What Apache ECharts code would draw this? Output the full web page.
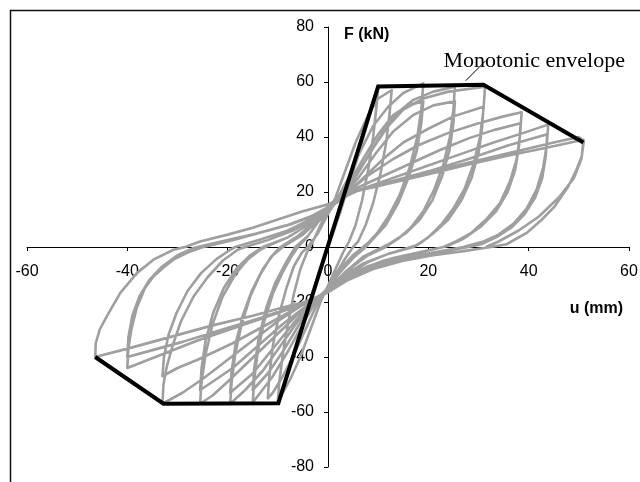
<!DOCTYPE html>
<html>
<head>
<meta charset="utf-8">
<script src="https://cdn.jsdelivr.net/npm/echarts@6/dist/echarts.min.js"></script>
<style>
  html, body { margin: 0; padding: 0; background: #fff; }
  #chart { width: 640px; height: 482px; }
</style>
</head>
<body>
<div id="chart"></div>
<script>
// Axis ranges (u in mm, F in kN)
const uRange = [-60, 60];
const fRange = [-80, 80];
const tickStep = 20;

// Monotonic envelope: displacement (mm) and force (kN)
const envelopeU = [-46.4, -32.8, -9.9, 10.0, 31.0, 50.9];
const envelopeF = [-40.0, -57.0, -56.8, 58.4, 59.0, 38.0];

// Cyclic test record, cycle by cycle: [u (mm), F (kN)]
const initialLoading = [[0,0],[1,5],[2.5,13],[4,22],[6,33],[8,46],[9,53],[10,57.5]];

const cycle1 = [[10,57.5],[9.6,50],[9,40],[8,28],[6.8,17],[5.5,8],[4.2,2],[3,-2],[1.5,-8],[0,-14],[-1.5,-20],[-3.5,-30],[-5.5,-40],[-7.5,-48],[-9,-53],[-10,-56],
  [-9.7,-49],[-9,-39],[-8,-28],[-6.8,-17],[-5.5,-8],[-4.2,-2],[-3,2],[-1.5,8],[0,13],[1.5,18],[3.5,28],[5.5,38],[8,48],[10,54],[12.7,57]];

const cycle2 = [[12.7,57],[12.3,49],[11.6,38],[10.5,27],[9,16],[7.5,8],[6,2],[5,0],[3.5,-4],[1.5,-10],[0,-15],[-2,-20],[-4,-28],[-6.5,-38],[-9,-47],[-11,-53],[-12,-55],
  [-11.7,-47],[-11,-36],[-9.8,-25],[-8.3,-15],[-6.8,-7],[-5.2,-2],[-4,0],[-2,5],[0,12],[2,18],[4,25],[6.5,35],[9,44],[12,51],[15,56],[19,59.5]];

const cycle3 = [[19,59.5],[18.6,50],[17.8,40],[16.3,29],[14.3,19],[12,11],[9.8,5],[8,1.5],[7,0],[5,-3],[3,-7],[1,-12],[0,-15],[-2.5,-20],[-5,-28],[-8,-38],[-11,-47],[-13.5,-53],[-15,-56.5],
  [-14.7,-48],[-14,-38],[-12.7,-27],[-11,-17],[-9,-9],[-7.3,-3.5],[-6,0],[-4,4],[-2,9],[0,13],[2,17],[4.5,24],[7,32],[10,41],[13,48],[16,51.5],[19,53]];

const cycle4 = [[19,53],[18.6,45],[17.7,35],[16,25],[14,16],[11.5,8],[9,3],[7.5,0],[5,-4],[2.5,-9],[0,-15],[-3,-20],[-6,-29],[-9,-38],[-12,-46],[-15,-52],
  [-14.7,-44],[-13.8,-33],[-12.3,-22],[-10.5,-13],[-8.5,-6],[-6.5,0],[-4,4],[-2,9],[0,13.5],[2.5,18],[5,24],[8,33],[11,42],[14,49],[17,53.5],[21,56.5],[25.3,58.3]];

const cycle5 = [[25.3,58.3],[25,50],[24.3,40],[23,30],[21.2,21],[19,13],[16.5,7],[14,3],[11.5,0],[8,-3],[5,-7],[2,-12],[0,-15.5],[-3,-20],[-6,-27],[-9.5,-36],[-13,-45],[-16.5,-52],[-19.5,-57],
  [-19.2,-49],[-18.5,-39],[-17.2,-28],[-15.5,-18],[-13.5,-10],[-11.5,-4],[-9.5,0],[-6,4],[-3,8.5],[0,13.5],[3,18.5],[6,25],[9.5,34],[13,42],[17,48],[21,51.5],[25.3,53]];

const cycle6 = [[25.3,53],[25,45],[24.2,35],[22.8,26],[20.8,17],[18.3,10],[15.5,5],[12.5,1.5],[11,0],[7,-3.5],[3.5,-9],[0,-15.5],[-3,-20],[-7,-28],[-11,-37],[-15,-46],[-19.5,-53],
  [-19.2,-45],[-18.4,-35],[-17,-25],[-15.2,-16],[-13,-8],[-11,-3],[-9,0],[-5,4.5],[-2,9.5],[0,13.5],[3,19],[6,27],[9,36],[12,44],[15,50],[19,54],[24,56.5],[31.3,58.3]];

const cycle7 = [[31.3,58.3],[31,50],[30.3,40],[29,30],[27.2,21],[25,14],[22.5,8],[20,3.5],[17.5,0.5],[16.5,0],[12,-2.5],[8,-5.5],[4,-10],[1,-14],[0,-16],[-4,-21],[-8,-28],[-12,-35],[-16,-42],[-20,-49],[-23,-54],[-25.5,-57],
  [-25.2,-49],[-24.4,-39],[-23,-28],[-21,-18],[-18.5,-10],[-16,-4.5],[-13.5,-1],[-12.5,0],[-8,3.5],[-4,8],[0,13.5],[3.5,19],[7,25],[11,32],[15,38],[20,43],[25,47.5],[31,51]];

const cycle8 = [[31,51],[30.7,43],[30,34],[28.6,25],[26.6,17],[24,10],[21,5],[18.5,1.5],[17,0],[12,-2.5],[7,-6],[3,-10.5],[0,-16],[-4,-21],[-9,-28],[-14,-36],[-19,-44],[-23,-49],[-25.5,-52],
  [-25.2,-44],[-24.4,-34],[-22.9,-24],[-20.8,-15],[-18.3,-8],[-15.5,-3],[-13,0],[-8,3.5],[-4,8],[0,14],[4,20],[8,26],[13,32],[18,37],[24,41.5],[30,45],[35,47.5],[38.6,49]];

const cycle9 = [[38.6,49],[38.3,41],[37.6,32],[36.3,24],[34.3,16],[31.5,10],[28.5,5],[25.5,2],[23,0],[18,-2],[13,-4],[8,-7],[4,-11],[1,-15],[-1,-17],[-5,-21],[-10,-27],[-15,-34],[-20,-41],[-25,-48],[-29,-53],[-33,-57],
  [-32.8,-50],[-32.2,-44],[-31,-36],[-29.3,-27],[-26.8,-18],[-24,-11],[-21,-5],[-18,-1],[-16.5,0],[-12,2.5],[-7,6],[-3,10],[0,14],[4,20],[10,25],[16,30],[22,35],[28,39.5],[33,42.5],[38.4,45]];

const cycle10 = [[38.4,45],[38.1,37],[37.3,28],[35.8,20],[33.5,13],[30.5,7.5],[27,3],[24,0.5],[23,0],[17,-2.5],[11,-5],[6,-8.5],[2,-13],[0,-16],[-5,-21],[-12,-28],[-19,-35],[-26,-41],[-30,-44],[-33,-47],
  [-32.7,-40],[-31.8,-32],[-30.2,-24],[-28,-16],[-25.3,-9.5],[-22.3,-4.5],[-19.5,-1],[-18.5,0],[-13,3],[-8,6],[-3,10.5],[0,14],[5,20],[12,24.5],[19,29],[26,33.5],[33,38],[39,41.5],[43.9,44.5]];

const cycle11 = [[43.9,44.5],[43.6,37],[42.9,29],[41.6,21],[39.6,14],[37,8.5],[34,4.5],[31,2],[28,0.5],[27,0],[21,-2],[15,-4],[9,-7],[4,-11],[0,-16],[-4,-20],[-10,-24],[-18,-29],[-26,-34],[-33,-39],[-40,-44],
  [-39.8,-37],[-39.2,-30],[-38.1,-22],[-36.5,-15],[-34.8,-10.7],[-32.5,-7],[-30.8,-4.6],[-28,-2],[-25.5,-0.4],[-24.8,0],[-19,2.5],[-13,5.5],[-7,8.5],[-2,12],[0,14],[5,20],[12,23.5],[20,27.5],[28,32],[36,37],[43.7,41]];

const cycle12 = [[43.7,41],[43.4,33],[42.7,25],[41.3,18],[39.2,12],[36.5,7],[33.5,3.5],[30.5,1],[28,0],[22,-2],[16,-4],[10,-6.5],[5,-10],[1,-14.5],[-2,-18],[-6,-21],[-13,-25.5],[-21,-30],[-29,-34.5],[-35,-37.5],[-40,-40],
  [-39.8,-33],[-39,-25],[-37.6,-18],[-35.6,-12],[-33,-7],[-30,-3],[-27,-0.5],[-26,0],[-20,2.5],[-14,5],[-8,8],[-3,11.5],[0,14.5],[5,20],[12,23],[20,26.5],[28,30],[36,33.3],[44,36.3],[50.9,39]];

const cycle13 = [[50.9,39],[50.6,33],[49.5,28],[47.9,22],[45.2,14.8],[42.6,9.9],[39.6,5.1],[35.6,1],[32.5,0],[27,-1.5],[21,-3],[15,-5],[9,-8],[4,-12],[0,-16.5],[-3,-19.5],[-7,-21],[-15,-25],[-23,-28.5],[-31,-32.5],[-39,-36.5],[-46.4,-40],
  [-46.3,-35],[-45.5,-30],[-44.1,-25.2],[-41.4,-16.7],[-38.1,-9.5],[-34.8,-4.6],[-30.8,-1],[-28.5,0],[-25.5,2],[-20,4.5],[-15,7],[-10,10],[-5,13],[0,15.5],[3,18],[6,20.5],[14,24],[22,28],[30,31.5],[38,35],[45,38],[50,40],
  [51,38.5],[50.5,32],[49,25],[46,18],[42,11],[38,6],[34,2],[31.5,0]];

const hysteresis = [].concat(initialLoading, cycle1, cycle2, cycle3, cycle4, cycle5, cycle6,
  cycle7, cycle8, cycle9, cycle10, cycle11, cycle12, cycle13);
const envelope = envelopeU.map((u, i) => [u, envelopeF[i]]);

// Plot area in pixels; the axes cross at the origin
const plot = { left: 27, top: 27, width: 602, height: 440 };
const xAxisShift = -plot.height * (fRange[1] / (fRange[1] - fRange[0]));
const yAxisShift = -plot.width * (-uRange[0] / (uRange[1] - uRange[0]));

const chart = echarts.init(document.getElementById('chart'), null, { renderer: 'canvas' });
const labelFont = { fontFamily: 'Liberation Sans, Arial, sans-serif', fontSize: 16, color: '#000' };

chart.setOption({
  animation: false,
  backgroundColor: '#fff',
  grid: { left: plot.left, top: plot.top, width: plot.width, height: plot.height, containLabel: false, outerBoundsMode: 'none' },
  xAxis: {
    type: 'value', min: uRange[0], max: uRange[1], interval: tickStep, position: 'bottom', offset: xAxisShift,
    axisLine: { onZero: false, lineStyle: { color: '#000', width: 1 } },
    axisTick: { show: true, length: 4, lineStyle: { color: '#000' } },
    axisLabel: Object.assign({ margin: 17 }, labelFont),
    splitLine: { show: false }
  },
  yAxis: {
    type: 'value', min: fRange[0], max: fRange[1], interval: tickStep, position: 'left', offset: yAxisShift,
    axisLine: { onZero: false, lineStyle: { color: '#000', width: 1 } },
    axisTick: { show: true, length: 4, lineStyle: { color: '#000' } },
    axisLabel: Object.assign({ margin: 14 }, labelFont),
    splitLine: { show: false }
  },
  series: [
    {
      name: 'Cyclic', type: 'line', data: hysteresis, showSymbol: false, symbol: 'none',
      lineStyle: { color: '#9f9f9f', width: 2.6, join: 'round' }, z: 2, clip: false
    },
    {
      name: 'Monotonic envelope', type: 'line', data: envelope, showSymbol: false, symbol: 'none',
      lineStyle: { color: '#000', width: 4, join: 'miter' }, z: 3
    }
  ],
  graphic: [
    { type: 'rect', shape: { x: 10.5, y: 10.5, width: 700, height: 600 }, style: { fill: 'none', stroke: '#111', lineWidth: 1.5 }, silent: true, z: 0 },
    { type: 'text', x: 344, y: 35, style: { text: 'F (kN)', fontFamily: 'Liberation Sans, Arial, sans-serif', fontWeight: 'bold', fontSize: 16, fill: '#000', verticalAlign: 'middle' } },
    { type: 'text', x: 623, y: 309, style: { text: 'u (mm)', fontFamily: 'Liberation Sans, Arial, sans-serif', fontWeight: 'bold', fontSize: 16, fill: '#000', align: 'right', verticalAlign: 'middle' } },
    { type: 'text', x: 625, y: 50, style: { text: 'Monotonic envelope', fontFamily: 'Liberation Serif, Times New Roman, serif', fontSize: 22, fill: '#000', align: 'right', verticalAlign: 'alphabetic' } },
    { type: 'line', shape: { x1: 465.7, y1: 80.7, x2: 485.7, y2: 60.7 }, style: { stroke: '#000', lineWidth: 1 } }
  ]
});
</script>
</body>
</html>
